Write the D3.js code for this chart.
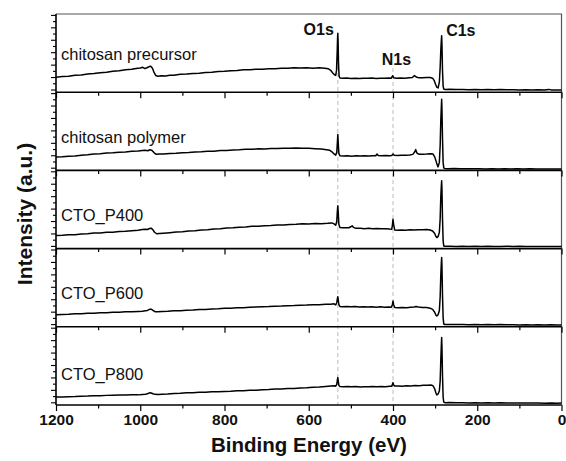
<!DOCTYPE html>
<html>
<head>
<meta charset="utf-8">
<script src="https://cdn.jsdelivr.net/npm/d3@7"></script>
<style>
  body { margin: 0; background: #fff; }
  svg { display: block; font-family: Arial, "Liberation Sans", sans-serif; }
</style>
</head>
<body>
<div id="chart"></div>
<script>
// XPS survey spectra, [binding energy (eV), intensity (a.u.)]
const precursorSpectrum = [
  [1200,15.0],[1185,15.6],[1170,15.9],[1155,16.8],[1140,17.2],[1125,18.1],[1110,18.6],[1095,19.5],[1080,19.9],[1065,20.9],
  [1050,21.4],[1035,22.4],[1020,22.9],[1010,23.6],[1000,24.2],[994,24.8],[989,23.6],[984,24.4],[979,25.6],[975,25.8],
  [971,23.8],[967,19.5],[963,16.6],[958,15.8],[950,16.3],[940,16.1],[930,16.9],[920,17.0],[905,17.8],[890,18.1],
  [875,18.7],[860,19.0],[845,19.6],[830,19.9],[815,20.6],[800,20.8],[785,21.5],[770,21.6],[755,22.3],[740,22.4],
  [725,23.0],[710,22.9],[695,23.5],[680,23.4],[665,23.9],[650,23.8],[635,24.3],[620,24.1],[605,24.4],[590,24.0],
  [575,24.3],[562,23.9],[554,23.4],[548,21.8],[543,19.2],[539,17.4],[536,16.8],[534,22],[532.5,40],[531.5,55],
  [531,58.7],[530.3,50],[529.3,28],[528,16],[526,14.2],[520,13.9],[510,14.2],[500,13.7],[490,14.0],[480,13.6],
  [470,13.9],[460,13.8],[450,14.1],[440,13.7],[430,14.0],[420,13.8],[410,14.2],[404,14.0],[401,16.4],[398,14.3],
  [392,13.9],[382,14.1],[372,14.0],[362,14.4],[354,14.6],[349,16.6],[345,15.2],[340,14.5],[330,14.4],[320,14.6],
  [312,14.7],[306,14.0],[302,11.5],[299,8.0],[296,5.0],[293,4.2],[290,10],[288,25],[286.5,42],[285.2,52],
  [284.5,56.3],[283.8,48],[282.5,22],[281,6],[279.5,3.1],[276,2.8],[265,2.9],[250,2.6],[235,2.8],[220,2.5],
  [205,2.7],[190,2.5],[175,2.6],[160,2.4],[145,2.6],[130,2.4],[115,2.5],[100,2.3],[85,2.5],[70,2.3],
  [55,2.4],[40,2.2],[30,2.8],[25,2.3],[10,2.2],[0,2.1]
];
const polymerSpectrum = [
  [1200,13.3],[1185,13.5],[1170,14.2],[1155,14.4],[1140,15.2],[1125,15.5],[1110,16.3],[1095,16.6],[1080,17.3],[1065,17.5],
  [1050,18.2],[1035,18.4],[1020,19.1],[1005,19.3],[995,19.9],[988,20.0],[982,19.6],[977,20.6],[972,19.8],[967,17.5],
  [962,16.0],[955,16.4],[945,16.3],[930,16.9],[915,17.1],[900,17.7],[885,17.8],[870,18.4],[855,18.5],[840,19.1],
  [825,19.2],[810,19.8],[795,19.9],[780,20.4],[765,20.5],[750,21.0],[735,21.0],[720,21.5],[705,21.4],[690,21.9],
  [675,21.8],[660,22.2],[645,22.0],[630,22.4],[615,22.1],[600,22.0],[585,21.6],[570,21.3],[558,20.7],[550,20.0],
  [545,18.6],[540,16.4],[536,15.2],[533.5,18],[532,28],[531,35.7],[530,27],[528.5,17],[526,14.6],[518,14.3],
  [508,14.6],[498,14.2],[488,14.5],[478,14.3],[468,14.6],[458,14.4],[448,14.7],[441,14.6],[438,16.3],[435,14.8],
  [428,14.6],[418,14.8],[408,14.7],[403,14.9],[400,16.4],[397,15.0],[390,14.8],[380,15.0],[370,15.1],[360,15.3],
  [353,16.0],[349,18.0],[346,20.7],[343,17.2],[338,16.0],[330,16.1],[320,16.3],[310,16.7],[305,16.3],[301,13.5],
  [298,9.5],[295,5.5],[293,3.5],[290,8],[288,25],[286.5,50],[285.2,64],[284.5,71],[283.8,62],[282.5,32],
  [281,8],[279.5,2.5],[277,1.8],[270,1.7],[255,1.8],[240,1.6],[225,1.7],[210,1.6],[195,1.7],[180,1.5],
  [165,1.6],[150,1.5],[135,1.6],[120,1.5],[105,1.6],[90,1.5],[75,1.6],[60,1.4],[45,1.5],[30,1.4],
  [15,1.5],[0,1.4]
];
const p400Spectrum = [
  [1200,13.0],[1185,13.2],[1170,13.8],[1155,13.9],[1140,14.6],[1125,14.8],[1110,15.5],[1095,15.6],[1080,16.3],[1065,16.4],
  [1050,17.1],[1035,17.3],[1020,17.9],[1005,18.4],[995,19.0],[988,19.4],[983,19.1],[978,20.1],[974,20.4],[970,18.8],
  [966,16.3],[961,14.8],[955,15.0],[945,15.4],[930,15.9],[915,16.5],[900,16.9],[885,17.6],[870,17.9],[855,18.6],
  [840,18.9],[825,19.6],[810,19.9],[795,20.5],[780,20.8],[765,21.4],[750,21.6],[735,22.2],[720,22.4],[705,22.9],
  [690,23.0],[675,23.5],[660,23.6],[645,24.1],[630,24.2],[615,24.7],[600,24.6],[585,25.0],[570,24.8],[555,25.2],
  [545,25.6],[540,24.6],[536,23.3],[533.5,27],[532,38],[531,42.7],[530,36],[528.5,24],[526,21],[520,20.7],
  [512,20.9],[505,20.8],[500,21.8],[497,22.7],[494,21.2],[488,20.2],[478,20.3],[468,19.9],[458,20.2],[448,19.8],
  [438,20.0],[428,19.7],[418,19.9],[408,19.5],[403,19.4],[401.5,23],[400,29.3],[398.5,24],[396,18.6],[390,18.4],
  [380,18.6],[370,18.4],[360,18.7],[350,18.6],[340,18.9],[330,18.8],[320,19.1],[312,18.6],[306,17.5],[301,15.0],
  [298,12.0],[296,11.0],[293,12],[290,16],[288,30],[286.5,52],[285.2,63],[284.5,67.7],[283.8,60],[282.5,30],
  [281,8],[279.5,2.6],[277,2.3],[265,2.4],[250,2.2],[235,2.4],[220,2.2],[205,2.3],[190,2.1],[175,2.3],
  [160,2.1],[145,2.2],[130,2.4],[115,2.2],[100,2.3],[85,2.1],[70,2.2],[55,2.0],[40,2.2],[25,2.0],
  [10,2.1],[0,2.0]
];
const p600Spectrum = [
  [1200,12.0],[1185,12.3],[1170,12.4],[1155,12.9],[1140,12.9],[1125,13.4],[1110,13.5],[1095,13.9],[1080,14.0],[1065,14.5],
  [1050,14.4],[1035,14.9],[1020,14.9],[1005,15.3],[995,15.6],[988,16.0],[983,16.3],[978,17.4],[974,17.6],[970,16.5],
  [965,15.1],[958,15.0],[948,15.3],[935,15.5],[920,16.0],[905,16.1],[890,16.6],[875,16.7],[860,17.2],[845,17.3],
  [830,17.8],[815,17.9],[800,18.4],[785,18.5],[770,19.0],[755,19.1],[740,19.6],[725,19.7],[710,20.1],[695,20.2],
  [680,20.6],[665,20.7],[650,21.1],[635,21.2],[620,21.6],[605,21.7],[590,22.1],[575,22.0],[560,22.5],[548,22.6],
  [540,22.9],[536,21.9],[533.5,24],[532,28],[531,30.0],[530,27],[528.5,22],[526,20.3],[520,20.1],[510,20.3],
  [500,19.9],[490,20.2],[480,19.8],[470,20.1],[460,19.7],[450,20.0],[440,19.6],[430,19.9],[420,19.5],[410,19.8],
  [404,19.6],[401.5,22],[400,25.7],[398.5,22],[396,19.2],[388,19.0],[378,19.2],[368,19.1],[358,19.5],[350,19.8],
  [345,20.2],[340,19.7],[330,19.3],[320,19.2],[312,18.6],[306,17.4],[301,14.5],[298,11.5],[296,10.7],[293,12],
  [290,16],[288,30],[286.5,52],[285.2,64],[284.5,69],[283.8,61],[282.5,32],[281,9],[279.5,2.8],[277,2.3],
  [265,2.4],[250,2.2],[235,2.3],[220,2.1],[205,2.3],[190,2.1],[175,2.2],[160,2.0],[145,2.2],[130,2.0],
  [115,2.1],[100,1.9],[85,2.1],[70,1.9],[55,2.0],[40,1.8],[25,2.0],[10,1.8],[0,1.9]
];
const p800Spectrum = [
  [1200,7.9],[1185,8.1],[1170,8.3],[1155,8.4],[1140,8.8],[1125,8.9],[1110,9.2],[1095,9.2],[1080,9.6],[1065,9.7],
  [1050,9.9],[1035,9.9],[1020,10.2],[1005,10.1],[995,10.5],[988,10.7],[983,11.2],[978,12.1],[974,12.0],[970,11.2],
  [965,10.6],[958,10.5],[948,10.8],[935,11.0],[920,11.5],[905,11.6],[890,12.1],[875,12.2],[860,12.6],[845,12.7],
  [830,13.1],[815,13.1],[800,13.5],[785,13.6],[770,14.1],[755,14.2],[740,14.7],[725,14.8],[710,15.3],[695,15.4],
  [680,15.9],[665,16.0],[650,16.4],[635,16.5],[620,17.0],[605,17.2],[590,17.7],[575,17.9],[560,18.5],[548,18.9],
  [540,19.2],[536,18.8],[533.5,20.5],[532,25],[531,27.3],[530,24],[528.5,19.5],[526,18.4],[518,18.2],[508,18.5],
  [498,18.1],[488,18.4],[478,18.0],[468,18.3],[458,18.1],[448,18.4],[438,18.2],[428,18.5],[418,18.3],[408,18.7],
  [403,18.6],[401.5,20.5],[400,22.3],[398.5,20],[396,18.9],[388,19.0],[378,18.8],[368,19.1],[358,19.0],[348,19.4],
  [338,19.3],[328,19.7],[318,19.8],[310,19.9],[305,19.2],[301,16.0],[298,12.0],[296,10.0],[293,11.0],[290,14],
  [288,24],[286.5,45],[285.2,60],[284.5,67.3],[283.8,58],[282.5,30],[281,8],[279.5,2.8],[277,2.3],[265,2.4],
  [250,2.2],[235,2.3],[220,2.1],[205,2.3],[190,2.1],[175,2.2],[160,2.0],[145,2.2],[130,2.0],[115,2.1],
  [100,1.9],[85,2.1],[70,1.9],[55,2.0],[40,1.8],[25,2.0],[10,1.8],[0,1.9]
];

const sampleNames = ['chitosan precursor', 'chitosan polymer', 'CTO_P400', 'CTO_P600', 'CTO_P800'];
const spectra = [precursorSpectrum, polymerSpectrum, p400Spectrum, p600Spectrum, p800Spectrum];

const peakNames = ['O1s', 'N1s', 'C1s'];
const peakEnergies = [531, 400, 284.5];

const xTickValues = [1200, 1000, 800, 600, 400, 200, 0];
const xMinorTickValues = [1100, 900, 700, 500, 300, 100];
const yTickValues = [2.7, 8.9, 15.1, 21.3, 27.5, 33.7, 39.9, 46.1, 52.3, 58.5, 64.7, 70.9, 77.1];

// layout
const width = 566;
const height = 461;
const margin = { top: 14, right: 4.5, bottom: 56, left: 56 };
const plotBottom = height - margin.bottom;
const panelH = (plotBottom - margin.top) / sampleNames.length;
const labelBaselines = [45.5, 50.5, 50.3, 50.7, 53.2];   // from panel top
const peakLabelLayout = [
  { dx: -4, y: 35, anchor: 'end', lineFrom: 38 },
  { dx: 3.5, y: 65, anchor: 'middle', lineFrom: 68 },
  { dx: 4.5, y: 36, anchor: 'start', lineFrom: 38 }
];

const svg = d3.select('#chart')
  .append('svg')
  .attr('width', width)
  .attr('height', height);

const x = d3.scaleLinear()
  .domain([1200, 0])
  .range([margin.left, width - margin.right]);

const y = d3.scaleLinear()
  .domain([0, 78])
  .range([panelH, 0]);

const line = d3.line()
  .x(d => x(d[0]))
  .y(d => y(d[1]));

// dashed guides for O1s and N1s
peakEnergies.slice(0, 2).forEach((e, i) => {
  svg.append('line')
    .attr('x1', x(e)).attr('x2', x(e))
    .attr('y1', peakLabelLayout[i].lineFrom).attr('y2', plotBottom)
    .attr('stroke', '#bdbdbd')
    .attr('stroke-width', 1)
    .attr('stroke-dasharray', '4,3');
});

// top + right frame
svg.append('path')
  .attr('d', `M${margin.left},${margin.top}H${width - margin.right}V${plotBottom}`)
  .attr('fill', 'none')
  .attr('stroke', '#555')
  .attr('stroke-width', 1.2);

spectra.forEach((data, i) => {
  const g = svg.append('g')
    .attr('transform', `translate(0,${margin.top + i * panelH})`);

  g.append('path')
    .datum(data)
    .attr('fill', 'none')
    .attr('stroke', '#000')
    .attr('stroke-width', 1.5)
    .attr('stroke-linejoin', 'round')
    .attr('d', line);

  g.append('text')
    .attr('x', 61)
    .attr('y', labelBaselines[i])
    .attr('font-size', 16.5)
    .attr('fill', '#111')
    .text(sampleNames[i]);

  // bottom axis of the panel
  const isLast = i === spectra.length - 1;
  const major = g.append('g')
    .attr('transform', `translate(0,${panelH})`)
    .call(d3.axisBottom(x).tickValues(xTickValues).tickSize(6).tickSizeOuter(0)
      .tickFormat(isLast ? d3.format('d') : ''));
  const minor = g.append('g')
    .attr('transform', `translate(0,${panelH})`)
    .call(d3.axisBottom(x).tickValues(xMinorTickValues).tickSize(3.5).tickSizeOuter(0).tickFormat(''));
  [major, minor].forEach(a => {
    a.select('.domain').remove();
    a.selectAll('line').attr('stroke', '#000').attr('stroke-width', 1.2);
  });
  major.selectAll('text')
    .attr('font-size', 15.5)
    .attr('font-weight', 'bold')
    .attr('fill', '#111')
    .attr('dy', null)
    .attr('y', 19.5);

  g.append('line')
    .attr('x1', margin.left).attr('x2', width - margin.right)
    .attr('y1', panelH).attr('y2', panelH)
    .attr('stroke', '#000')
    .attr('stroke-width', 1.6);

  // left ticks, alternating lengths
  const yMajor = g.append('g')
    .attr('transform', `translate(${margin.left},0)`)
    .call(d3.axisLeft(y).tickValues(yTickValues.filter((d, k) => k % 2 === 0)).tickSize(5).tickFormat(''));
  const yMinor = g.append('g')
    .attr('transform', `translate(${margin.left},0)`)
    .call(d3.axisLeft(y).tickValues(yTickValues.filter((d, k) => k % 2 === 1)).tickSize(3).tickFormat(''));
  [yMajor, yMinor].forEach(a => {
    a.select('.domain').remove();
    a.selectAll('line').attr('stroke', '#000').attr('stroke-width', 1.1);
  });
});

// left axis line
svg.append('line')
  .attr('x1', margin.left).attr('x2', margin.left)
  .attr('y1', margin.top).attr('y2', plotBottom)
  .attr('stroke', '#000')
  .attr('stroke-width', 1.6);

// peak labels
peakNames.forEach((name, i) => {
  svg.append('text')
    .attr('x', x(peakEnergies[i]) + peakLabelLayout[i].dx)
    .attr('y', peakLabelLayout[i].y)
    .attr('text-anchor', peakLabelLayout[i].anchor)
    .attr('font-size', 16)
    .attr('font-weight', 'bold')
    .attr('fill', '#111')
    .text(name);
});

// axis titles
svg.append('text')
  .attr('x', 309)
  .attr('y', 452)
  .attr('text-anchor', 'middle')
  .attr('font-size', 20.5)
  .attr('font-weight', 'bold')
  .attr('fill', '#111')
  .text('Binding Energy (eV)');

svg.append('text')
  .attr('transform', 'translate(31.5,214) rotate(-90)')
  .attr('text-anchor', 'middle')
  .attr('font-size', 21)
  .attr('font-weight', 'bold')
  .attr('fill', '#111')
  .text('Intensity (a.u.)');
</script>
</body>
</html>
